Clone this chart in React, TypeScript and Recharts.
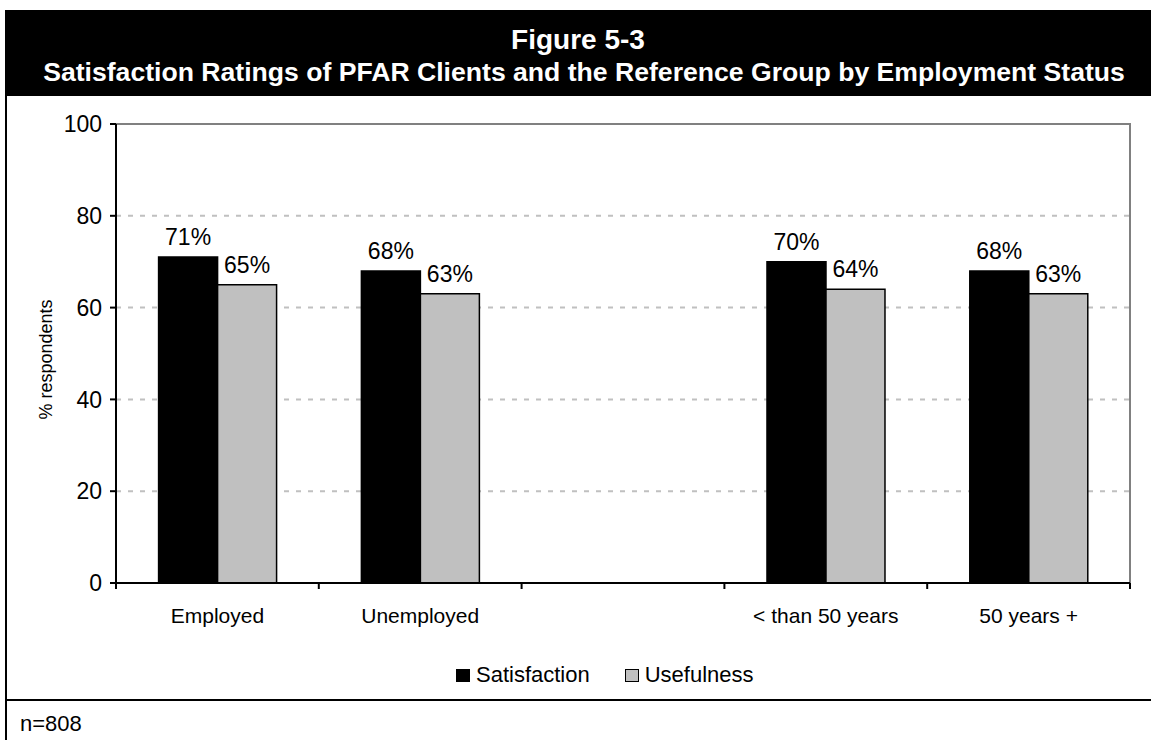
import {
  BarChart,
  Bar,
  XAxis,
  YAxis,
  CartesianGrid,
  LabelList,
  Legend,
  ReferenceArea,
} from "recharts";

const groups = ["Employed", "Unemployed", "", "< than 50 years", "50 years +"];
const satisfaction = [71, 68, null, 70, 68];
const usefulness = [65, 63, null, 64, 63];
const yTicks = [0, 20, 40, 60, 80, 100];
const gridValues = [20, 40, 60, 80];

const data = groups.map((group, i) => ({
  group,
  satisfaction: satisfaction[i],
  usefulness: usefulness[i],
}));

const FONT = "Arial, 'Liberation Sans', Helvetica, sans-serif";

// category tick: label in the middle, tick marks on the band edges (Excel style)
function CategoryTick(props: any) {
  const { x, y, payload, index } = props;
  const half = payload?.offset ?? 0;
  const last = index === groups.length - 1;
  return (
    <g>
      <line x1={x - half} x2={x - half} y1={y} y2={y + 6} stroke="#000" strokeWidth={2} />
      {last && <line x1={x + half} x2={x + half} y1={y} y2={y + 6} stroke="#000" strokeWidth={2} />}
      <text x={x} y={y + 40} textAnchor="middle" fontSize={21} fontFamily={FONT} fill="#000">
        {payload.value}
      </text>
    </g>
  );
}

function LegendBox({ payload }: any) {
  return (
    <div
      style={{
        display: "flex",
        alignItems: "center",
        fontFamily: FONT,
        fontSize: 22,
        lineHeight: "22px",
        color: "#000",
        whiteSpace: "nowrap",
      }}
    >
      {(payload || []).map((p: any, i: number) => (
        <div key={i} style={{ display: "flex", alignItems: "center", marginRight: i === 0 ? 35 : 0 }}>
          <span
            style={{
              display: "inline-block",
              width: 14,
              height: 13,
              background: p.color,
              border: "1.5px solid #000",
              boxSizing: "border-box",
              marginRight: 6,
            }}
          />
          {p.value}
        </div>
      ))}
    </div>
  );
}

const pct = (v: any) => (v == null ? "" : `${v}%`);

export default function App() {
  return (
    <div
      style={{
        position: "absolute",
        left: 0,
        top: 0,
        width: 1151,
        height: 740,
        background: "#fff",
        overflow: "hidden",
        fontFamily: FONT,
      }}
    >
      {/* title band */}
      <div style={{ position: "absolute", left: 5, top: 10, width: 1146, height: 86, background: "#000" }} />
      <div
        style={{
          position: "absolute",
          left: 5,
          top: 26,
          width: 1146,
          textAlign: "center",
          color: "#fff",
          fontWeight: "bold",
          fontSize: 28,
          lineHeight: "28px",
        }}
      >
        Figure 5-3
      </div>
      <div
        style={{
          position: "absolute",
          left: 5,
          top: 59,
          width: 1158,
          textAlign: "center",
          color: "#fff",
          fontWeight: "bold",
          fontSize: 26.6,
          lineHeight: "27px",
          whiteSpace: "nowrap",
        }}
      >
        Satisfaction Ratings of PFAR Clients and the Reference Group by Employment Status
      </div>

      <div style={{ position: "absolute", left: 0, top: 96, width: 1151, height: 604 }}>
        <BarChart
          width={1151}
          height={604}
          data={data}
          margin={{ top: 28, right: 21, bottom: 0, left: 0 }}
          barCategoryGap="21%"
          barGap={0}
        >
          <CartesianGrid
            vertical={false}
            horizontalValues={gridValues}
            stroke="#c0c0c0"
            strokeWidth={2}
            strokeDasharray="5 7"
          />
          <ReferenceArea y1={0} y2={100} fill="none" stroke="#808080" strokeWidth={2} />
          <XAxis
            dataKey="group"
            interval={0}
            height={117}
            tickLine={false}
            tickSize={0}
            tickMargin={0}
            axisLine={{ stroke: "#000", strokeWidth: 2 }}
            tick={<CategoryTick />}
          />
          <YAxis
            width={116}
            domain={[0, 100]}
            ticks={yTicks}
            interval={0}
            tickSize={6}
            tickMargin={8}
            axisLine={{ stroke: "#000", strokeWidth: 2 }}
            tickLine={{ stroke: "#000", strokeWidth: 2 }}
            tick={{ fill: "#000", fontSize: 23, fontFamily: FONT }}
            label={{
              value: "% respondents",
              angle: -90,
              position: "center",
              dx: -12,
              dy: 6,
              fill: "#000",
              fontSize: 18,
              fontFamily: FONT,
            }}
          />
          <Legend
            layout="horizontal"
            verticalAlign="middle"
            align="center"
            content={<LegendBox />}
            wrapperStyle={{ left: 456, top: 568, width: "auto", height: "auto" }}
          />
          <Bar dataKey="satisfaction" name="Satisfaction" fill="#000" stroke="#000" strokeWidth={1.5} isAnimationActive={false}>
            <LabelList dataKey="satisfaction" position="top" offset={12} formatter={pct} fill="#000" fontSize={23} fontFamily={FONT} />
          </Bar>
          <Bar dataKey="usefulness" name="Usefulness" fill="#c0c0c0" stroke="#000" strokeWidth={1.5} isAnimationActive={false}>
            <LabelList dataKey="usefulness" position="top" offset={12} formatter={pct} fill="#000" fontSize={23} fontFamily={FONT} />
          </Bar>
        </BarChart>
      </div>

      {/* frame lines and footnote */}
      <div style={{ position: "absolute", left: 5, top: 96, width: 2, height: 644, background: "#000" }} />
      <div style={{ position: "absolute", left: 5, top: 699, width: 1146, height: 2, background: "#000" }} />
      <div style={{ position: "absolute", left: 20, top: 713, fontSize: 22, lineHeight: "22px", color: "#000" }}>
        n=808
      </div>
    </div>
  );
}
